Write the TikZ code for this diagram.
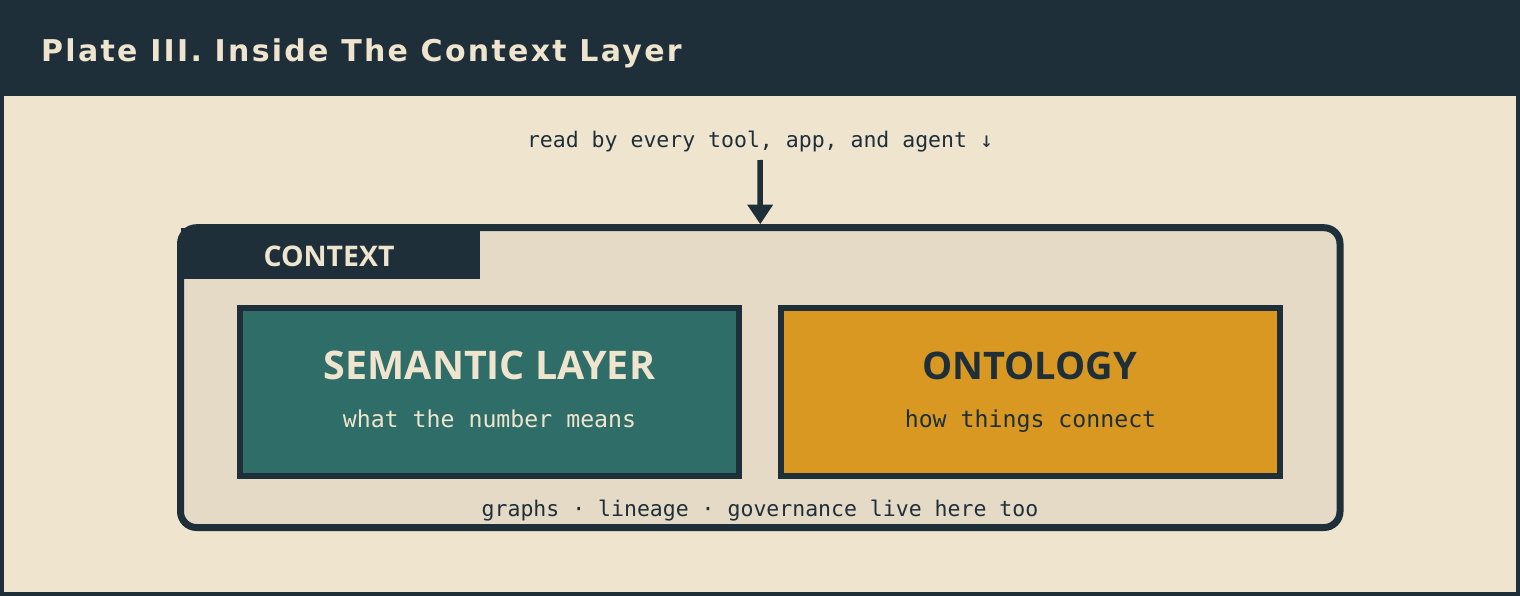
\documentclass[tikz,border=0pt]{standalone}
\usepackage{fontspec}
\usetikzlibrary{arrows.meta}
\setmainfont{DejaVu Sans}
\newfontfamily\titlefont[LetterSpace=7.6]{DejaVu Sans}
\newfontfamily\headfont{Open Sans}
\newfontfamily\monofont{DejaVu Sans Mono}
\definecolor{ink}{HTML}{1F2F3A}
\definecolor{paper}{HTML}{EFE4CD}
\definecolor{boxfill}{HTML}{E5DAC5}
\definecolor{teal}{HTML}{2F6E68}
\definecolor{gold}{HTML}{D89822}
\tikzset{
  layerbox/.style={draw=ink, line width=6pt, minimum width=499pt, minimum height=168pt, inner sep=0pt},
  headtxt/.style={font=\headfont\bfseries\fontsize{38}{40}\selectfont, anchor=base, inner sep=0pt},
  subtxt/.style={font=\monofont\fontsize{23.2}{26}\selectfont, anchor=base, inner sep=0pt},
  monotxt/.style={font=\monofont\fontsize{21.5}{24}\selectfont, text=ink, anchor=base, inner sep=0pt},
}
\begin{document}
\begin{tikzpicture}[x=1pt, y=-1pt]
\useasboundingbox (0,0) rectangle (1520,596);
\fill[ink] (0,0) rectangle (1520,596);
\fill[paper] (4,96) rectangle (1516,592);
\node[font=\titlefont\bfseries\fontsize{30}{32}\selectfont, text=paper, anchor=base west, inner sep=0pt] (title) at (41,62) {Plate III. Inside The Context Layer};
\node[monotxt] (readby) at (760,148) {read by every tool, app, and agent ↓};
% context box
\node[draw=ink, fill=boxfill, line width=7pt, rounded corners=16pt, minimum width=1159.5pt, minimum height=299.8pt, inner sep=0pt] (context) at (760.25,377.6) {};
\fill[ink] (180.5,228) rectangle (480,279);
\node[font=\headfont\bfseries\fontsize{28.4}{30}\selectfont, text=paper, anchor=base, inner sep=0pt] (ctxlabel) at (329,266) {CONTEXT};
\coordinate (arrowstart) at (760,160);
\draw[ink, line width=5.5pt, -{Triangle[width=24.5pt,length=19.5pt]}] (arrowstart) -- (context.north);
% layer boxes
\node[layerbox, fill=teal] (semantic) at (489.5,392) {};
\node[layerbox, fill=gold] (ontology) at (1030.5,392) {};
\node[headtxt, text=paper, font=\headfont\bfseries\fontsize{39.4}{41}\selectfont] (semhead) at (489.5,379.3) {SEMANTIC LAYER};
\node[subtxt, text=paper] (semsub) at (489.5,427.3) {what the number means};
\node[headtxt, text=ink] (onthead) at (1029.5,379.3) {ONTOLOGY};
\node[subtxt, text=ink] (ontsub) at (1030.5,427.3) {how things connect};
\node[monotxt] (footer) at (760,516) {graphs · lineage · governance live here too};
\end{tikzpicture}
\end{document}
